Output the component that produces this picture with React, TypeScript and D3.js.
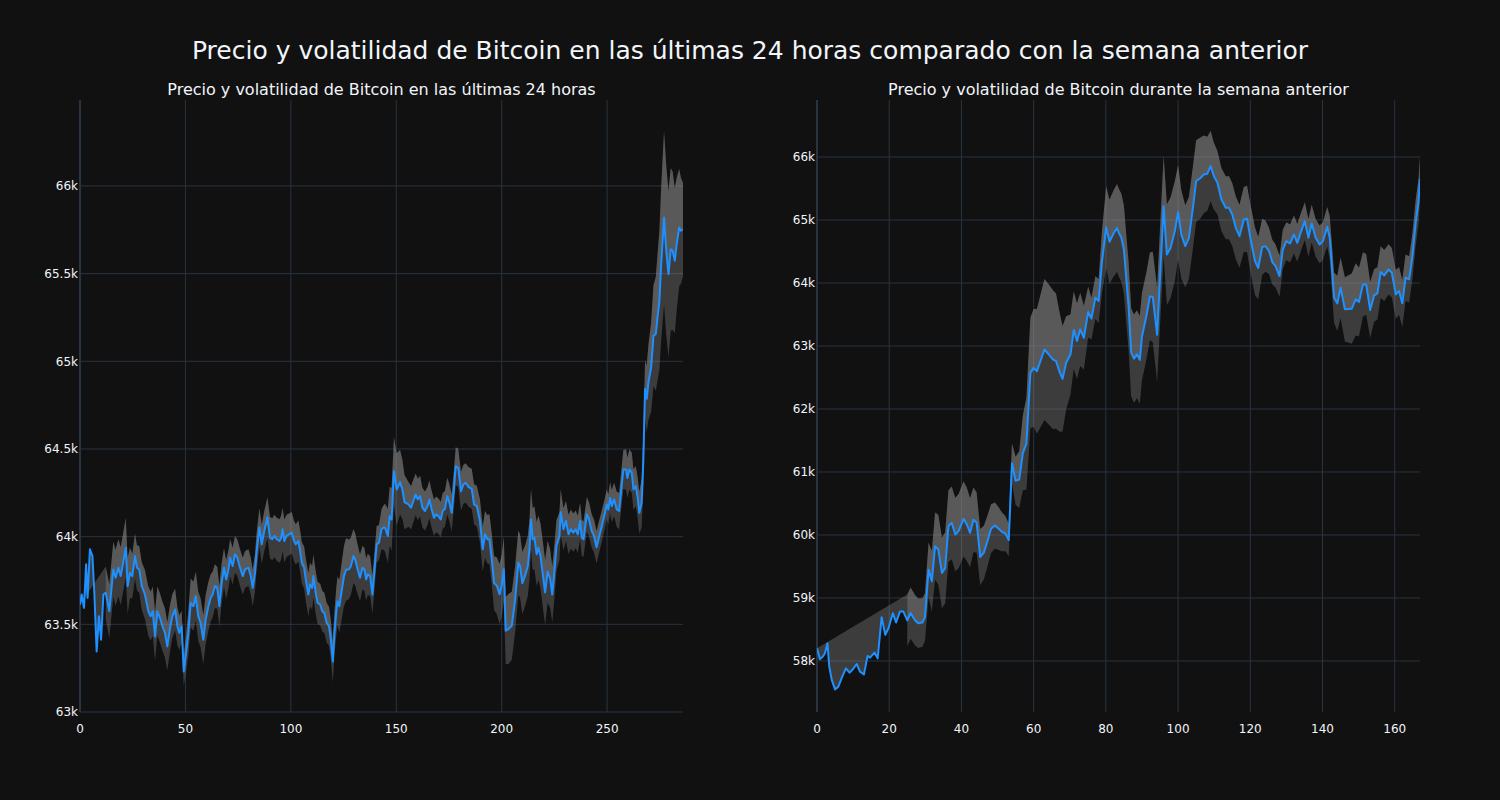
import React, { useRef, useEffect } from "react";
import * as d3 from "d3";

const mainTitle = "Precio y volatilidad de Bitcoin en las últimas 24 horas comparado con la semana anterior";
const dayTitle = "Precio y volatilidad de Bitcoin en las últimas 24 horas";
const weekTitle = "Precio y volatilidad de Bitcoin durante la semana anterior";

// last 24 hours (5 min steps): [index, price]
const dayPrice: [number, number][] = [
  [0, 63613], [0.8, 63670], [1.9, 63594], [2.9, 63842], [3.6, 63650], [4.7, 63928], [5.9, 63890], [6.8, 63680],
  [7.9, 63345], [9.0, 63546], [10.0, 63412], [11.1, 63670], [12.2, 63680], [13.9, 63575], [15.8, 63813], [16.9, 63765],
  [18.2, 63823], [19.3, 63775], [20.6, 63861], [21.7, 63937], [22.6, 63718], [23.7, 63794], [24.8, 63775], [26.1, 63889],
  [27.0, 63823], [28.1, 63813], [29.3, 63718], [30.8, 63670], [32.4, 63575], [33.5, 63546], [34.5, 63575], [35.6, 63431],
  [36.7, 63575], [37.9, 63537], [39.1, 63489], [40.3, 63451], [41.4, 63374], [42.7, 63479], [43.8, 63546], [45.1, 63584],
  [46.2, 63489], [47.1, 63451], [48.2, 63489], [49.2, 63231], [50.3, 63336], [51.4, 63451], [52.5, 63622], [53.8, 63603],
  [54.9, 63660], [56.1, 63546], [57.2, 63508], [58.5, 63412], [59.6, 63527], [60.9, 63603], [62.0, 63651], [62.9, 63670],
  [64.0, 63718], [65.1, 63708], [66.1, 63603], [67.2, 63737], [68.3, 63823], [69.3, 63756], [70.4, 63813], [71.2, 63880],
  [72.4, 63832], [73.5, 63899], [74.6, 63880], [75.9, 63823], [77.2, 63775], [78.3, 63813], [79.9, 63823], [81.0, 63775],
  [81.9, 63708], [83.0, 63794], [83.8, 63918], [85.1, 64052], [86.2, 63956], [87.4, 64032], [88.9, 64109], [90.1, 63994],
  [91.2, 63985], [92.2, 64004], [93.3, 63985], [94.6, 63975], [95.4, 63994], [96.1, 64042], [96.9, 63975], [98.0, 64004],
  [99.2, 64013], [100.4, 64023], [101.5, 63975], [102.3, 63956], [103.6, 63975], [104.4, 63918], [105.2, 63851], [106.3, 63823],
  [107.2, 63746], [108.3, 63670], [109.1, 63727], [110.1, 63708], [110.7, 63775], [111.8, 63679], [112.7, 63622], [113.9, 63613],
  [114.9, 63575], [115.9, 63565], [117.0, 63508], [118.1, 63489], [118.9, 63422], [119.9, 63288], [120.7, 63451], [121.5, 63565],
  [122.1, 63632], [123.0, 63603], [124.1, 63689], [125.2, 63775], [126.2, 63813], [127.5, 63813], [128.5, 63832], [129.7, 63889],
  [130.5, 63870], [131.7, 63813], [132.8, 63765], [134.0, 63823], [134.9, 63813], [135.7, 63756], [136.5, 63785], [137.6, 63775],
  [138.7, 63670], [139.6, 63794], [140.7, 63956], [141.8, 63966], [143.0, 64042], [143.9, 64052], [144.7, 64051], [146.0, 64004],
  [146.9, 64117], [147.8, 64098], [148.9, 64373], [150.2, 64269], [151.8, 64311], [152.9, 64269], [153.9, 64197], [155.8, 64184],
  [157.0, 64165], [158.1, 64203], [159.2, 64241], [160.2, 64212], [161.3, 64231], [162.4, 64165], [163.6, 64146], [164.8, 64174],
  [165.7, 64212], [166.8, 64155], [167.9, 64108], [168.9, 64127], [170.0, 64117], [171.1, 64098], [172.0, 64146], [173.1, 64159],
  [174.2, 64231], [175.2, 64193], [176.3, 64136], [177.4, 64278], [178.2, 64401], [179.4, 64392], [180.7, 64259], [181.8, 64297],
  [182.9, 64307], [184.2, 64284], [185.8, 64273], [186.9, 64184], [188.2, 64174], [189.7, 64089], [191.0, 63928], [192.1, 64013],
  [193.2, 63985], [194.2, 63985], [195.3, 63871], [196.4, 63735], [197.7, 63720], [199.0, 63672], [200.0, 63720], [201.0, 63814],
  [201.9, 63464], [203.2, 63473], [204.8, 63492], [206.4, 63644], [207.9, 63852], [208.7, 63833], [209.8, 63735], [211.1, 63777],
  [212.4, 63833], [213.2, 63928], [213.9, 64098], [214.7, 63985], [215.5, 63994], [216.6, 63900], [217.4, 63937], [218.4, 63890],
  [219.3, 63805], [220.6, 63682], [221.8, 63800], [223.0, 63760], [224.0, 63670], [225.0, 63800], [226.0, 63950], [227.4, 64004],
  [228.0, 64140], [229.3, 64042], [230.5, 64089], [231.7, 64013], [232.8, 64042], [234.0, 64023], [235.1, 64042], [236.1, 64013],
  [237.2, 64089], [238.0, 63994], [238.8, 63985], [240.4, 64127], [241.4, 64098], [242.7, 64032], [243.8, 64004], [245.0, 63940],
  [246.3, 64004], [247.5, 64061], [249.0, 64136], [249.8, 64184], [250.6, 64155], [251.4, 64222], [252.2, 64174], [253.3, 64212],
  [254.6, 64155], [255.7, 64146], [256.5, 64241], [257.7, 64383], [259.0, 64383], [259.6, 64335], [260.6, 64383], [261.7, 64364],
  [262.5, 64269], [263.6, 64288], [264.5, 64222], [265.3, 64136], [266.4, 64193], [267.2, 64439], [268.0, 64843], [268.8, 64786],
  [269.6, 64880], [270.9, 64966], [272.0, 65146], [273.1, 65156], [274.0, 65260], [274.8, 65345], [275.6, 65545], [277.0, 65820],
  [278.0, 65639], [279.1, 65497], [280.2, 65639], [281.1, 65630], [282.1, 65573], [283.0, 65668], [284.2, 65763], [285.0, 65744],
  [286.0, 65753],
];
// rolling volatility read at anchor indices
const dayVolX = [12, 22, 25, 31, 41, 45, 49, 52, 61, 66, 72, 82, 88, 95, 102, 110, 119, 126, 134, 142, 150, 156, 170, 180, 188, 196, 203, 212, 220, 230, 250, 259, 265, 268, 273, 277, 281, 286];
const dayVolSd = [150, 170, 125, 140, 140, 120, 80, 140, 140, 115, 105, 105, 115, 125, 115, 125, 110, 180, 125, 100, 210, 125, 100, 110, 115, 150, 200, 170, 190, 115, 85, 115, 115, 165, 320, 495, 455, 265];

// previous week (hourly): [index, price]
const weekPrice: [number, number][] = [
  [0, 58202], [0.8, 58027], [1.6, 58069], [2.2, 58122], [2.9, 58281], [3.4, 57910], [4.1, 57697], [5.0, 57549],
  [5.9, 57591], [6.8, 57724], [8.0, 57883], [9.0, 57814], [9.9, 57867], [11.0, 57952], [11.9, 57830], [13.0, 57788],
  [14.0, 58080], [14.7, 58053], [15.9, 58133], [16.8, 58042], [17.9, 58696], [18.9, 58414], [19.8, 58520], [21.0, 58759],
  [21.9, 58611], [23.0, 58786], [23.9, 58786], [25.0, 58643], [25.9, 58759], [27.2, 58643], [28.0, 58600], [29.2, 58611],
  [29.9, 58696], [30.9, 59450], [31.8, 59264], [32.7, 59822], [33.6, 59769], [34.6, 59397], [35.5, 59476], [36.4, 60140],
  [37.3, 60193], [38.3, 60008], [39.2, 60061], [40.6, 60257], [41.5, 60167], [42.4, 60034], [43.3, 60240], [44.2, 60200],
  [45.2, 59650], [46.2, 59720], [47.2, 59900], [48.2, 60100], [49.3, 60150], [50.3, 60100], [51.2, 60050], [52.2, 60020],
  [53.1, 59920], [54.0, 61140], [55.0, 60860], [56.0, 60880], [57.0, 61300], [58.0, 61450], [59.1, 62573], [60.0, 62653],
  [60.9, 62600], [63.0, 62945], [64.2, 62865], [65.3, 62786], [66.2, 62759], [67.1, 62600], [68.0, 62478], [69.0, 62733],
  [70.2, 62865], [71.1, 63253], [72.0, 63078], [72.9, 63264], [73.9, 63131], [75.1, 63540], [76.0, 63434], [77.1, 63768],
  [78.0, 63715], [78.9, 64326], [80.1, 64883], [81.0, 64655], [82.2, 64793], [83.1, 64873], [83.6, 64796], [84.3, 64716],
  [85.0, 64530], [85.6, 64106], [86.3, 63628], [87.0, 62900], [87.8, 62800], [88.6, 62870], [89.4, 62780], [90.0, 63151],
  [91.2, 63469], [92.2, 63788], [93.0, 63777], [94.2, 63178], [95.1, 64212], [96.0, 65220], [96.9, 64451], [97.9, 64557],
  [99.1, 64822], [100.0, 65125], [100.9, 64769], [102.0, 64584], [103.0, 64716], [104.1, 65194], [105.0, 65618], [106.3, 65671],
  [107.1, 65724], [108.1, 65735], [109.0, 65857], [109.9, 65698], [110.9, 65592], [112.0, 65326], [113.2, 65194], [114.1, 65194],
  [115.0, 65088], [116.0, 64875], [117.0, 64743], [118.2, 65008], [119.1, 65019], [120.1, 64690], [121.3, 64345], [122.2, 64239],
  [123.3, 64573], [124.2, 64585], [125.2, 64506], [126.1, 64331], [127.0, 64268], [128.1, 64110], [129.0, 64532], [130.0, 64664],
  [131.0, 64627], [132.1, 64770], [133.0, 64638], [134.1, 64823], [135.1, 64981], [136.1, 64717], [137.0, 64944], [138.1, 64717],
  [139.2, 64611], [140.1, 64664], [141.3, 64891], [142.0, 64717], [143.2, 63767], [144.1, 63677], [145.0, 63925], [146.2, 63582],
  [148.1, 63592], [149.2, 63740], [150.1, 63698], [151.2, 63978], [152.1, 63978], [153.2, 63571], [154.3, 63804], [155.2, 63835],
  [156.1, 64173], [157.1, 64120], [158.3, 64215], [159.2, 64162], [160.3, 63819], [161.2, 63872], [162.1, 63677], [163.0, 64083],
  [164.0, 64057], [164.9, 64427], [165.8, 64954], [166.6, 65298], [167.0, 65651],
];
const weekVolX = [24, 30, 33, 41, 45, 50, 53, 56, 59, 63, 66, 68, 70, 73, 76, 78, 80, 83, 88, 92, 96, 99, 102, 106, 111, 117, 121, 125, 130, 141, 145, 149, 154, 158, 163, 167];
const weekVolSd = [420, 380, 550, 600, 450, 350, 250, 450, 875, 1120, 1100, 840, 640, 580, 330, 350, 650, 700, 700, 690, 800, 800, 650, 650, 500, 500, 550, 370, 300, 300, 480, 580, 420, 400, 370, 360];

const dayTicksX = [0, 50, 100, 150, 200, 250];
const dayTicksY = [63000, 63500, 64000, 64500, 65000, 65500, 66000];
const weekTicksX = [0, 20, 40, 60, 80, 100, 120, 140, 160];
const weekTicksY = [58000, 59000, 60000, 61000, 62000, 63000, 64000, 65000, 66000];

const BG = "#111111";
const GRID = "#283442";
const TEXT = "#f2f5fa";
const LINE = "#1e90ff";
const BAND = "rgba(150,150,150,0.33)";
const FONT = "DejaVu Sans, sans-serif";

type PanelCfg = {
  title: string;
  price: [number, number][];
  volX: number[];
  volSd: number[];
  xDomain: [number, number];
  yDomain: [number, number];
  ticksX: number[];
  ticksY: number[];
  left: number;
  right: number;
};

const TOP = 100;
const BOTTOM = 712;

function drawPanel(root: d3.Selection<SVGGElement, unknown, null, undefined>, cfg: PanelCfg) {
  const x = d3.scaleLinear().domain(cfg.xDomain).range([cfg.left, cfg.right]);
  const y = d3.scaleLinear().domain(cfg.yDomain).range([BOTTOM, TOP]);
  const vol = d3.scaleLinear().domain(cfg.volX).range(cfg.volSd).clamp(true);
  const g = root.append("g");

  // grid
  g.selectAll("line.gx")
    .data(cfg.ticksX)
    .enter()
    .append("line")
    .attr("x1", (d) => x(d))
    .attr("x2", (d) => x(d))
    .attr("y1", TOP)
    .attr("y2", BOTTOM)
    .attr("stroke", GRID)
    .attr("stroke-width", (d) => (d === 0 ? 2 : 1));
  g.selectAll("line.gy")
    .data(cfg.ticksY)
    .enter()
    .append("line")
    .attr("x1", cfg.left)
    .attr("x2", cfg.right)
    .attr("y1", (d) => y(d))
    .attr("y2", (d) => y(d))
    .attr("stroke", GRID)
    .attr("stroke-width", 1);

  // bands: whole band, then the upper half once more
  const k = cfg.volX[0];
  const withVol = cfg.price.filter((p) => p[0] >= k);
  const upper = withVol.map((p) => [p[0], p[1] + vol(p[0])] as [number, number]);
  const lower = withVol.map((p) => [p[0], p[1] - vol(p[0])] as [number, number]);
  const path = d3
    .line<[number, number]>()
    .x((d) => x(d[0]))
    .y((d) => y(d[1]));

  const clipId = "clip" + cfg.left;
  root
    .append("clipPath")
    .attr("id", clipId)
    .append("rect")
    .attr("x", cfg.left)
    .attr("y", TOP)
    .attr("width", cfg.right - cfg.left)
    .attr("height", BOTTOM - TOP);

  const marks = g.append("g").attr("clip-path", `url(#${clipId})`);
  marks
    .append("path")
    .attr("d", path([...upper, ...lower.slice().reverse()]) + "Z")
    .attr("fill", BAND);
  marks
    .append("path")
    .attr("d", path([...cfg.price, ...upper.slice().reverse()]) + "Z")
    .attr("fill", BAND);
  marks
    .append("path")
    .attr("d", path(cfg.price))
    .attr("fill", "none")
    .attr("stroke", LINE)
    .attr("stroke-width", 2)
    .attr("stroke-linejoin", "round");

  // tick labels
  const fmt = d3.format("~s");
  g.selectAll("text.tx")
    .data(cfg.ticksX)
    .enter()
    .append("text")
    .attr("x", (d) => x(d))
    .attr("y", 733)
    .attr("text-anchor", "middle")
    .attr("fill", TEXT)
    .attr("font-size", 12)
    .attr("font-family", FONT)
    .text((d) => String(d));
  g.selectAll("text.ty")
    .data(cfg.ticksY)
    .enter()
    .append("text")
    .attr("x", cfg.left - 2)
    .attr("y", (d) => y(d))
    .attr("dy", "0.36em")
    .attr("text-anchor", "end")
    .attr("fill", TEXT)
    .attr("font-size", 12)
    .attr("font-family", FONT)
    .text((d) => fmt(d));

  g.append("text")
    .attr("x", (cfg.left + cfg.right) / 2)
    .attr("y", 95)
    .attr("text-anchor", "middle")
    .attr("fill", TEXT)
    .attr("font-size", 16)
    .attr("font-family", FONT)
    .text(cfg.title);
}

export default function App() {
  const svgRef = useRef<SVGSVGElement>(null);

  useEffect(() => {
    document.body.style.margin = "0";
    document.body.style.background = BG;
    if (!svgRef.current) return;
    const svg = d3.select(svgRef.current);
    svg.selectAll("*").remove();
    const root = svg.append("g");

    root.append("rect").attr("width", 1500).attr("height", 800).attr("fill", BG);

    root
      .append("text")
      .attr("x", 750)
      .attr("y", 59)
      .attr("text-anchor", "middle")
      .attr("fill", TEXT)
      .attr("font-size", 25)
      .attr("font-family", FONT)
      .text(mainTitle);

    drawPanel(root, {
      title: dayTitle,
      price: dayPrice,
      volX: dayVolX,
      volSd: dayVolSd,
      xDomain: [0, 286],
      yDomain: [63000, 66490],
      ticksX: dayTicksX,
      ticksY: dayTicksY,
      left: 80,
      right: 683,
    });
    drawPanel(root, {
      title: weekTitle,
      price: weekPrice,
      volX: weekVolX,
      volSd: weekVolSd,
      xDomain: [0, 167],
      yDomain: [57190, 66905],
      ticksX: weekTicksX,
      ticksY: weekTicksY,
      left: 817,
      right: 1420,
    });
  }, []);

  return <svg ref={svgRef} width={1500} height={800} style={{ display: "block" }} />;
}
